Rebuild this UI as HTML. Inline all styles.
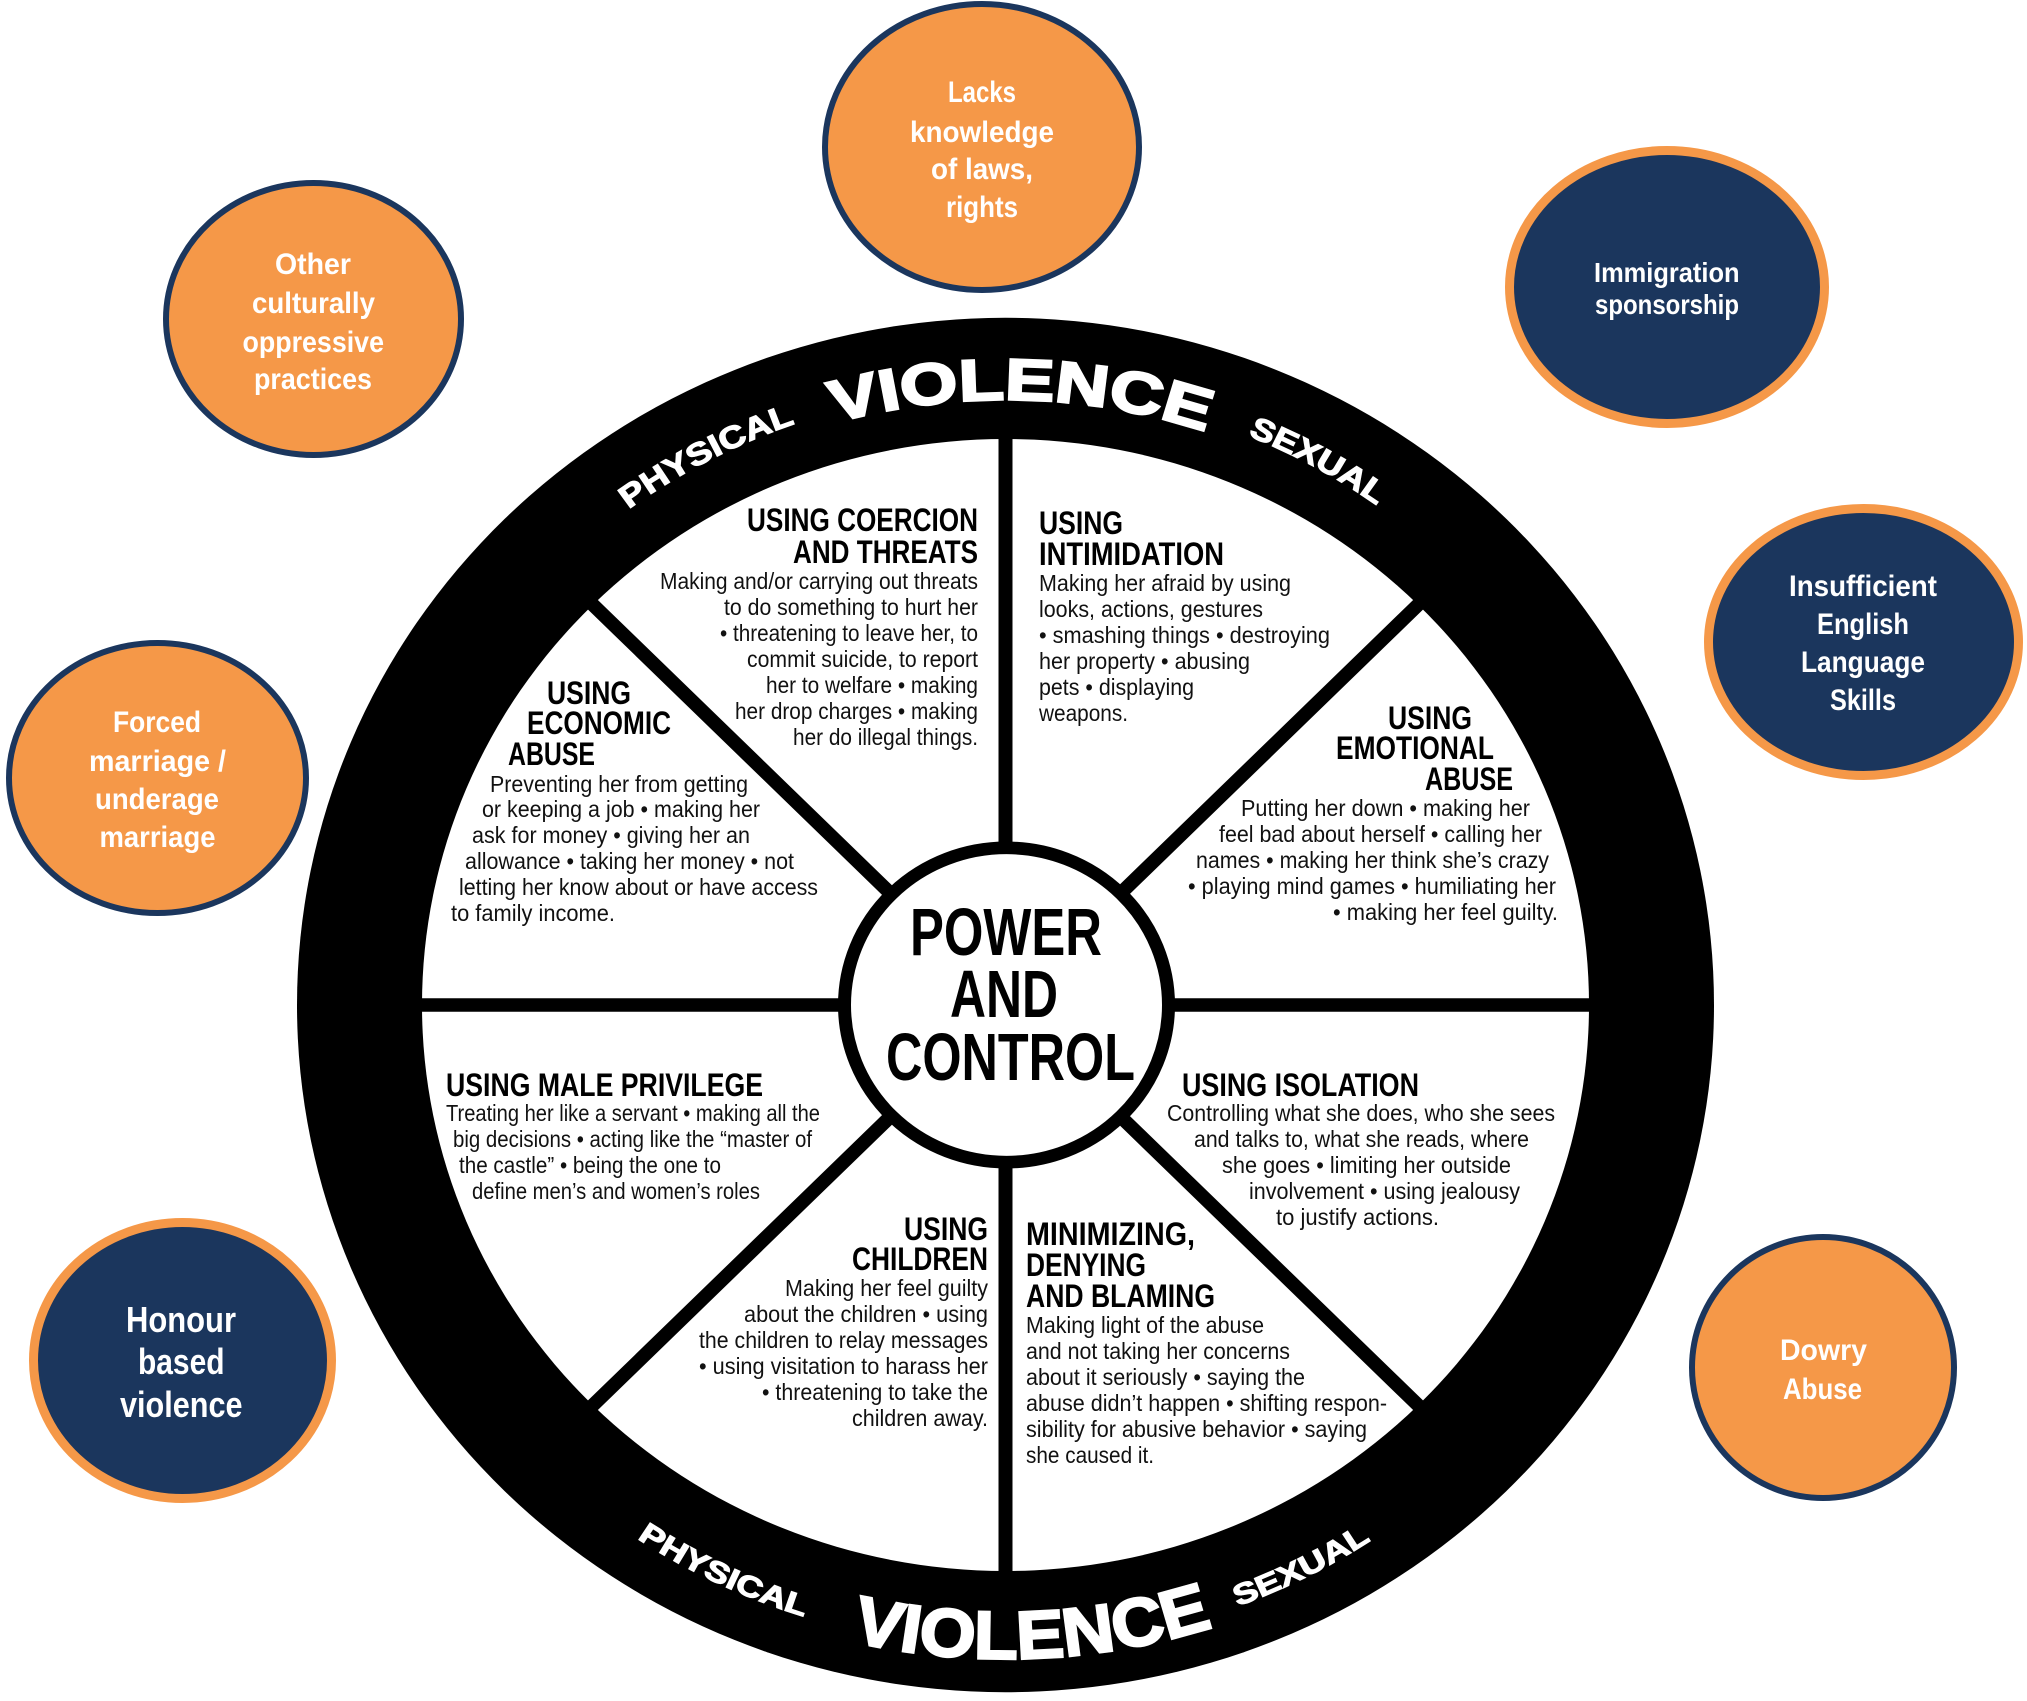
<!DOCTYPE html>
<html>
<head>
<meta charset="utf-8">
<style>
html,body{margin:0;padding:0;background:#fff;}
svg{display:block;}
.h{font-family:"Liberation Sans",Arial,sans-serif;font-weight:bold;font-size:32px;fill:#000;}
.b{font-family:"Liberation Sans",Arial,sans-serif;font-size:23px;fill:#111;}
.hub{font-family:"Liberation Sans",Arial,sans-serif;font-weight:bold;font-size:67px;fill:#000;}
.bt{font-family:"Liberation Sans",Arial,sans-serif;font-weight:bold;font-size:30px;fill:#fff;}
.rim{font-family:"Liberation Sans",Arial,sans-serif;font-weight:bold;fill:#fff;stroke:#fff;}
</style>
</head>
<body>
<svg width="2027" height="1701" viewBox="0 0 2027 1701" xmlns="http://www.w3.org/2000/svg">
<rect x="0" y="0" width="2027" height="1701" fill="#fff"/>

<!-- Bubbles -->
<ellipse cx="982" cy="147" rx="157" ry="143" fill="#F59848" stroke="#1B365D" stroke-width="6"/>
<ellipse cx="313.5" cy="319" rx="147.5" ry="136" fill="#F59848" stroke="#1B365D" stroke-width="6"/>
<ellipse cx="157.5" cy="778" rx="148.5" ry="135" fill="#F59848" stroke="#1B365D" stroke-width="6"/>
<ellipse cx="182.5" cy="1360.5" rx="149" ry="138" fill="#1B365D" stroke="#F59848" stroke-width="9"/>
<ellipse cx="1667" cy="287" rx="157.5" ry="136.5" fill="#1B365D" stroke="#F59848" stroke-width="9"/>
<ellipse cx="1863.5" cy="642" rx="155" ry="133.5" fill="#1B365D" stroke="#F59848" stroke-width="9"/>
<ellipse cx="1823" cy="1367.5" rx="131" ry="130.5" fill="#F59848" stroke="#1B365D" stroke-width="6"/>

<!-- Bubble texts -->
<text class="bt" x="948" y="102" textLength="68" lengthAdjust="spacingAndGlyphs">Lacks</text>
<text class="bt" x="910" y="142" textLength="144" lengthAdjust="spacingAndGlyphs">knowledge</text>
<text class="bt" x="931" y="179" textLength="102" lengthAdjust="spacingAndGlyphs">of laws,</text>
<text class="bt" x="946" y="217" textLength="72" lengthAdjust="spacingAndGlyphs">rights</text>

<text class="bt" x="275" y="274" textLength="76" lengthAdjust="spacingAndGlyphs">Other</text>
<text class="bt" x="252" y="313" textLength="123" lengthAdjust="spacingAndGlyphs">culturally</text>
<text class="bt" x="242.5" y="352" textLength="141.5" lengthAdjust="spacingAndGlyphs">oppressive</text>
<text class="bt" x="254" y="389" textLength="118" lengthAdjust="spacingAndGlyphs">practices</text>

<text class="bt" x="113" y="732" textLength="88" lengthAdjust="spacingAndGlyphs">Forced</text>
<text class="bt" x="89" y="771" textLength="137" lengthAdjust="spacingAndGlyphs">marriage /</text>
<text class="bt" x="95" y="809" textLength="124" lengthAdjust="spacingAndGlyphs">underage</text>
<text class="bt" x="99.5" y="847" textLength="116" lengthAdjust="spacingAndGlyphs">marriage</text>

<text class="bt" style="font-size:36px" x="126" y="1332" textLength="110" lengthAdjust="spacingAndGlyphs">Honour</text>
<text class="bt" style="font-size:36px" x="138" y="1374" textLength="86.5" lengthAdjust="spacingAndGlyphs">based</text>
<text class="bt" style="font-size:36px" x="120" y="1417" textLength="122.5" lengthAdjust="spacingAndGlyphs">violence</text>

<text class="bt" style="font-size:28px" x="1594" y="282" textLength="145.5" lengthAdjust="spacingAndGlyphs">Immigration</text>
<text class="bt" style="font-size:28px" x="1595" y="314" textLength="144" lengthAdjust="spacingAndGlyphs">sponsorship</text>

<text class="bt" x="1789" y="596" textLength="148" lengthAdjust="spacingAndGlyphs">Insufficient</text>
<text class="bt" x="1817" y="634" textLength="92" lengthAdjust="spacingAndGlyphs">English</text>
<text class="bt" x="1801" y="672" textLength="124" lengthAdjust="spacingAndGlyphs">Language</text>
<text class="bt" x="1830" y="710" textLength="66" lengthAdjust="spacingAndGlyphs">Skills</text>

<text class="bt" x="1780" y="1360" textLength="87" lengthAdjust="spacingAndGlyphs">Dowry</text>
<text class="bt" x="1783" y="1399" textLength="79" lengthAdjust="spacingAndGlyphs">Abuse</text>

<!-- Wheel -->
<g transform="translate(1005.5,1005) scale(1,0.97)">
  <defs>
    <path id="top635" d="M -635 0 A 635 635 0 0 1 635 0"/>
    <path id="top624" d="M -624 0 A 624 624 0 0 1 624 0"/>
    <path id="bot662" d="M -662 0 A 662 662 0 0 0 662 0"/>
    <path id="bot674" d="M -674 0 A 674 674 0 0 0 674 0"/>
  </defs>
  <circle cx="0" cy="0" r="708.5" fill="#000"/>
  <circle cx="0" cy="0" r="583.5" fill="#fff"/>
  <g stroke="#000" stroke-width="14">
    <line x1="0" y1="0" x2="0" y2="-600"/>
    <line x1="0" y1="0" x2="0" y2="600"/>
    <line x1="0" y1="0" x2="-600" y2="0"/>
    <line x1="0" y1="0" x2="600" y2="0"/>
    <line x1="0" y1="0" x2="425" y2="-425"/>
    <line x1="0" y1="0" x2="-425" y2="-425"/>
    <line x1="0" y1="0" x2="425" y2="425"/>
    <line x1="0" y1="0" x2="-425" y2="425"/>
  </g>
  <circle cx="1" cy="0" r="162" fill="#fff" stroke="#000" stroke-width="13"/>

  <text class="rim" style="font-size:32px" stroke-width="1.2"><textPath href="#top635" startOffset="594" textLength="189" lengthAdjust="spacingAndGlyphs">PHYSICAL</textPath></text>
  <text class="rim" style="font-size:60px" stroke-width="2.5"><textPath href="#top624" startOffset="807" textLength="377" lengthAdjust="spacingAndGlyphs">VIOLENCE</textPath></text>
  <text class="rim" style="font-size:32px" stroke-width="1.2"><textPath href="#top635" startOffset="1246" textLength="148" lengthAdjust="spacingAndGlyphs">SEXUAL</textPath></text>

  <text class="rim" style="font-size:30px" stroke-width="1.2"><textPath href="#bot662" startOffset="649" textLength="186" lengthAdjust="spacingAndGlyphs">PHYSICAL</textPath></text>
  <text class="rim" style="font-size:70px" stroke-width="2.5"><textPath href="#bot674" startOffset="903" textLength="367" lengthAdjust="spacingAndGlyphs">VIOLENCE</textPath></text>
  <text class="rim" style="font-size:30px" stroke-width="1.2"><textPath href="#bot662" startOffset="1277" textLength="150" lengthAdjust="spacingAndGlyphs">SEXUAL</textPath></text>
</g>

<!-- Hub text -->
<text class="hub" x="910" y="955" textLength="192" lengthAdjust="spacingAndGlyphs">POWER</text>
<text class="hub" x="950" y="1017" textLength="108" lengthAdjust="spacingAndGlyphs">AND</text>
<text class="hub" x="886" y="1080" textLength="249" lengthAdjust="spacingAndGlyphs">CONTROL</text>

<!-- Coercion -->
<text class="h" x="747" y="531" textLength="231" lengthAdjust="spacingAndGlyphs">USING COERCION</text>
<text class="h" x="793" y="563" textLength="185" lengthAdjust="spacingAndGlyphs">AND THREATS</text>
<text class="b" x="660" y="589" textLength="318" lengthAdjust="spacingAndGlyphs">Making and/or carrying out threats</text>
<text class="b" x="724" y="615" textLength="254" lengthAdjust="spacingAndGlyphs">to do something to hurt her</text>
<text class="b" x="720" y="641" textLength="258" lengthAdjust="spacingAndGlyphs">• threatening to leave her, to</text>
<text class="b" x="747" y="667" textLength="231" lengthAdjust="spacingAndGlyphs">commit suicide, to report</text>
<text class="b" x="766" y="693" textLength="212" lengthAdjust="spacingAndGlyphs">her to welfare • making</text>
<text class="b" x="735" y="719" textLength="243" lengthAdjust="spacingAndGlyphs">her drop charges • making</text>
<text class="b" x="793" y="745" textLength="185" lengthAdjust="spacingAndGlyphs">her do illegal things.</text>

<!-- Intimidation -->
<text class="h" x="1039" y="534" textLength="84" lengthAdjust="spacingAndGlyphs">USING</text>
<text class="h" x="1039" y="565" textLength="185" lengthAdjust="spacingAndGlyphs">INTIMIDATION</text>
<text class="b" x="1039" y="591" textLength="252" lengthAdjust="spacingAndGlyphs">Making her afraid by using</text>
<text class="b" x="1039" y="617" textLength="224" lengthAdjust="spacingAndGlyphs">looks, actions, gestures</text>
<text class="b" x="1039" y="643" textLength="291" lengthAdjust="spacingAndGlyphs">• smashing things • destroying</text>
<text class="b" x="1039" y="669" textLength="211" lengthAdjust="spacingAndGlyphs">her property • abusing</text>
<text class="b" x="1039" y="695" textLength="155" lengthAdjust="spacingAndGlyphs">pets • displaying</text>
<text class="b" x="1039" y="721" textLength="89" lengthAdjust="spacingAndGlyphs">weapons.</text>

<!-- Emotional -->
<text class="h" x="1388" y="729" textLength="84" lengthAdjust="spacingAndGlyphs">USING</text>
<text class="h" x="1336" y="759" textLength="158" lengthAdjust="spacingAndGlyphs">EMOTIONAL</text>
<text class="h" x="1425" y="790" textLength="88" lengthAdjust="spacingAndGlyphs">ABUSE</text>
<text class="b" x="1241" y="816" textLength="289" lengthAdjust="spacingAndGlyphs">Putting her down • making her</text>
<text class="b" x="1219" y="842" textLength="323" lengthAdjust="spacingAndGlyphs">feel bad about herself • calling her</text>
<text class="b" x="1196" y="868" textLength="353" lengthAdjust="spacingAndGlyphs">names • making her think she’s crazy</text>
<text class="b" x="1188" y="894" textLength="368" lengthAdjust="spacingAndGlyphs">• playing mind games • humiliating her</text>
<text class="b" x="1333" y="920" textLength="225" lengthAdjust="spacingAndGlyphs">• making her feel guilty.</text>

<!-- Economic -->
<text class="h" x="547" y="704" textLength="84" lengthAdjust="spacingAndGlyphs">USING</text>
<text class="h" x="527" y="734" textLength="144" lengthAdjust="spacingAndGlyphs">ECONOMIC</text>
<text class="h" x="508" y="765" textLength="87" lengthAdjust="spacingAndGlyphs">ABUSE</text>
<text class="b" x="490" y="792" textLength="258" lengthAdjust="spacingAndGlyphs">Preventing her from getting</text>
<text class="b" x="482" y="817" textLength="278" lengthAdjust="spacingAndGlyphs">or keeping a job • making her</text>
<text class="b" x="472" y="843" textLength="278" lengthAdjust="spacingAndGlyphs">ask for money • giving her an</text>
<text class="b" x="465" y="869" textLength="329" lengthAdjust="spacingAndGlyphs">allowance • taking her money • not</text>
<text class="b" x="459" y="895" textLength="359" lengthAdjust="spacingAndGlyphs">letting her know about or have access</text>
<text class="b" x="451" y="921" textLength="164" lengthAdjust="spacingAndGlyphs">to family income.</text>

<!-- Male privilege -->
<text class="h" x="446" y="1096" textLength="317" lengthAdjust="spacingAndGlyphs">USING MALE PRIVILEGE</text>
<text class="b" x="446" y="1121" textLength="374" lengthAdjust="spacingAndGlyphs">Treating her like a servant • making all the</text>
<text class="b" x="453" y="1147" textLength="359" lengthAdjust="spacingAndGlyphs">big decisions • acting like the “master of</text>
<text class="b" x="459" y="1173" textLength="262" lengthAdjust="spacingAndGlyphs">the castle”  • being the one to</text>
<text class="b" x="472" y="1199" textLength="288" lengthAdjust="spacingAndGlyphs">define men’s and women’s roles</text>

<!-- Children -->
<text class="h" x="904" y="1240" textLength="84" lengthAdjust="spacingAndGlyphs">USING</text>
<text class="h" x="852" y="1270" textLength="136" lengthAdjust="spacingAndGlyphs">CHILDREN</text>
<text class="b" x="785" y="1296" textLength="203" lengthAdjust="spacingAndGlyphs">Making her feel guilty</text>
<text class="b" x="744" y="1322" textLength="244" lengthAdjust="spacingAndGlyphs">about the children • using</text>
<text class="b" x="699" y="1348" textLength="289" lengthAdjust="spacingAndGlyphs">the children to relay messages</text>
<text class="b" x="699" y="1374" textLength="289" lengthAdjust="spacingAndGlyphs">• using visitation to harass her</text>
<text class="b" x="762" y="1400" textLength="226" lengthAdjust="spacingAndGlyphs">• threatening to take the</text>
<text class="b" x="852" y="1426" textLength="136" lengthAdjust="spacingAndGlyphs">children away.</text>

<!-- Isolation -->
<text class="h" x="1182" y="1096" textLength="237" lengthAdjust="spacingAndGlyphs">USING ISOLATION</text>
<text class="b" x="1167" y="1121" textLength="388" lengthAdjust="spacingAndGlyphs">Controlling what she does, who she sees</text>
<text class="b" x="1194" y="1147" textLength="335" lengthAdjust="spacingAndGlyphs">and talks to, what she reads, where</text>
<text class="b" x="1222" y="1173" textLength="289" lengthAdjust="spacingAndGlyphs">she goes • limiting her outside</text>
<text class="b" x="1249" y="1199" textLength="271" lengthAdjust="spacingAndGlyphs">involvement • using jealousy</text>
<text class="b" x="1276" y="1225" textLength="163" lengthAdjust="spacingAndGlyphs">to justify actions.</text>

<!-- Minimizing -->
<text class="h" x="1026" y="1245" textLength="169" lengthAdjust="spacingAndGlyphs">MINIMIZING,</text>
<text class="h" x="1026" y="1276" textLength="120" lengthAdjust="spacingAndGlyphs">DENYING</text>
<text class="h" x="1026" y="1307" textLength="189" lengthAdjust="spacingAndGlyphs">AND BLAMING</text>
<text class="b" x="1026" y="1333" textLength="238" lengthAdjust="spacingAndGlyphs">Making light of the abuse</text>
<text class="b" x="1026" y="1359" textLength="264" lengthAdjust="spacingAndGlyphs">and not taking her concerns</text>
<text class="b" x="1026" y="1385" textLength="279" lengthAdjust="spacingAndGlyphs">about it seriously • saying the</text>
<text class="b" x="1026" y="1411" textLength="361" lengthAdjust="spacingAndGlyphs">abuse didn’t happen • shifting respon-</text>
<text class="b" x="1026" y="1437" textLength="341" lengthAdjust="spacingAndGlyphs">sibility for abusive behavior • saying</text>
<text class="b" x="1026" y="1463" textLength="128" lengthAdjust="spacingAndGlyphs">she caused it.</text>
</svg>
</body>
</html>
